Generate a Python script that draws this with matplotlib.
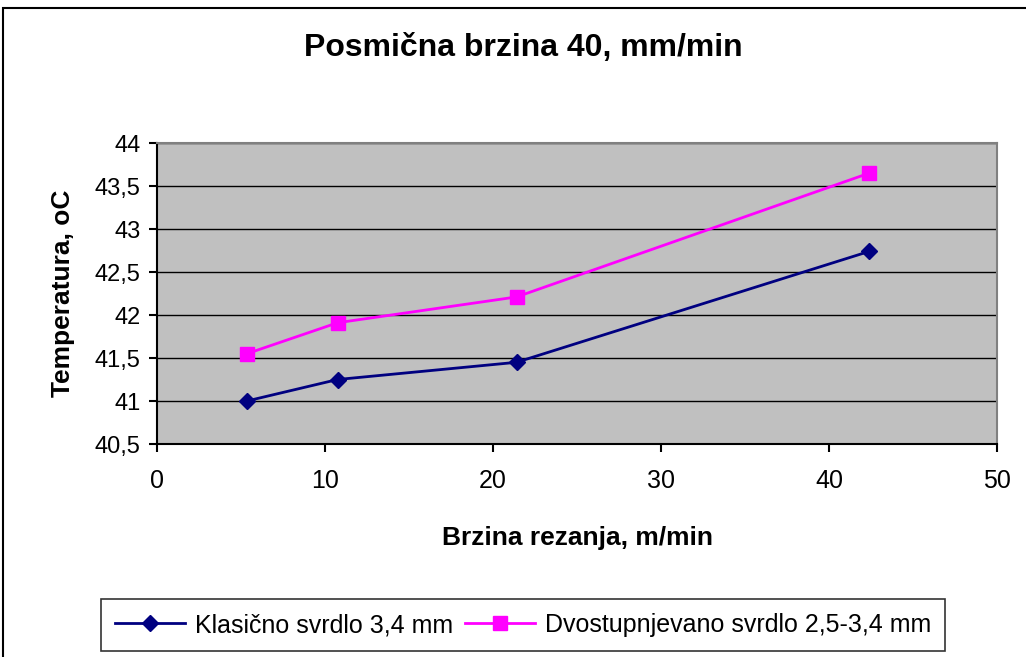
import matplotlib.pyplot as plt
from matplotlib.patches import Rectangle
from matplotlib.ticker import FuncFormatter

plt.rcParams['font.family'] = ['Liberation Sans', 'DejaVu Sans']

brzina = [5.35, 10.75, 21.4, 42.4]
klasicno = [41.0, 41.25, 41.45, 42.74]
dvostupnjevano = [41.55, 41.91, 42.21, 43.65]

fig = plt.figure(figsize=(10.26, 6.57), dpi=100)
fig.patches.append(Rectangle((3 / 1026, -0.05), 1.2, 1.05 - 8 / 657,
                             transform=fig.transFigure, fill=False,
                             edgecolor='black', linewidth=1.5))

ax = fig.add_axes([157 / 1026, 1 - 444 / 657, 840 / 1026, 301 / 657])
ax.set_facecolor('#c0c0c0')

ax.plot(brzina, klasicno, color='#000080', marker='D', markersize=8.5,
        linewidth=2, label='Klasično svrdlo 3,4 mm')
ax.plot(brzina, dvostupnjevano, color='#ff00ff', marker='s', markersize=10,
        linewidth=2, label='Dvostupnjevano svrdlo 2,5-3,4 mm')

ax.set_xlim(0, 50)
ax.set_ylim(40.5, 44)
ax.set_xticks(range(0, 51, 10))
ax.set_yticks([40.5 + 0.5 * i for i in range(8)])
ax.yaxis.set_major_formatter(FuncFormatter(lambda v, p: f'{v:g}'.replace('.', ',')))
ax.grid(axis='y', color='black', linewidth=1)
ax.set_axisbelow(True)
ax.tick_params(direction='out', length=6, width=1.5, pad=6)
ax.tick_params(axis='y', labelsize=17)
ax.tick_params(axis='x', labelsize=18, pad=12)

for s in ['top', 'right']:
    ax.spines[s].set_color('#808080')
    ax.spines[s].set_linewidth(1.5)
for s in ['left', 'bottom']:
    ax.spines[s].set_linewidth(1.5)

fig.text(0.51, 1 - 48 / 657, 'Posmična brzina 40, mm/min', ha='center', va='center',
         fontsize=23, fontweight='bold')
ax.set_xlabel('Brzina rezanja, m/min', fontsize=19, fontweight='bold', labelpad=24)
ax.set_ylabel('Temperatura, oC', fontsize=19, fontweight='bold', labelpad=14)

leg = fig.legend(loc='center', bbox_to_anchor=(523 / 1026, 1 - 625 / 657), ncol=2,
                 fontsize=18, frameon=True, fancybox=False, edgecolor='black',
                 handlelength=2.8, columnspacing=0.5, handletextpad=0.4,
                 borderpad=0.55)
leg.get_frame().set_linewidth(1.2)

fig.savefig('out.png', dpi=100)
